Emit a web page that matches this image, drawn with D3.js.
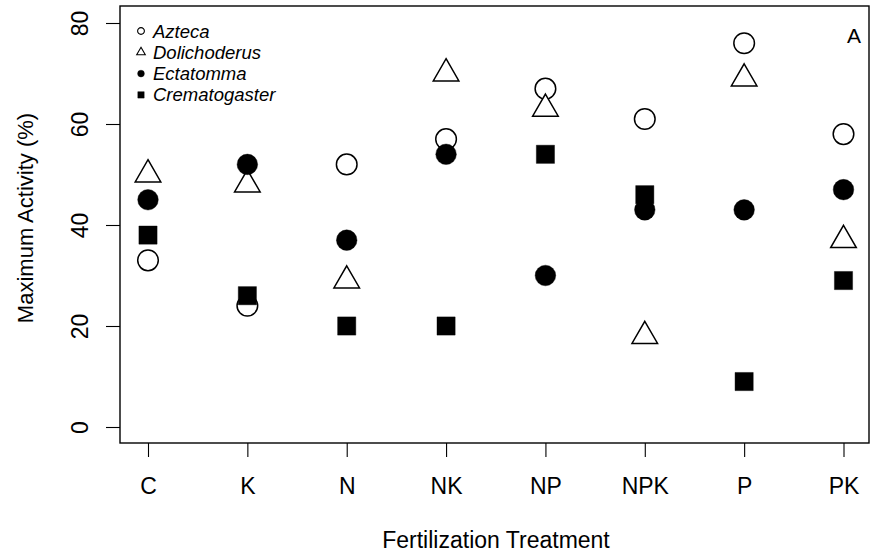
<!DOCTYPE html>
<html>
<head>
<meta charset="utf-8">
<script src="https://cdn.jsdelivr.net/npm/d3@7"></script>
<style>
  html, body { margin: 0; padding: 0; background: #fff; }
  svg { display: block; font-family: "Liberation Sans", Arial, sans-serif; }
</style>
</head>
<body>
<svg id="chart" width="871" height="559"></svg>
<script>
// Treatments along the x axis
const treatments = ["C", "K", "N", "NK", "NP", "NPK", "P", "PK"];
// Maximum activity (%) per genus, one value per treatment
const azteca        = [33, 24, 52, 57, 67, 61, 76, 58];
const dolichoderus  = [50, 48, 29, 70, 63, 18, 69, 37];
const ectatomma     = [45, 52, 37, 54, 30, 43, 43, 47];
const crematogaster = [38, 26, 20, 20, 54, 46, 9, 29];
const yTicks = [0, 20, 40, 60, 80];
const genera = ["Azteca", "Dolichoderus", "Ectatomma", "Crematogaster"];

const series = [
  { name: genera[0], values: azteca,        shape: "circle",   fill: false },
  { name: genera[1], values: dolichoderus,  shape: "triangle", fill: false },
  { name: genera[2], values: ectatomma,     shape: "circle",   fill: true },
  { name: genera[3], values: crematogaster, shape: "square",   fill: true }
];

const FONT = "'Liberation Sans', Arial, sans-serif";
const svg = d3.select("#chart");
const box = { left: 120, right: 869, top: 6, bottom: 443 };

const x = d3.scalePoint().domain(treatments).range([148, 843.5]);
const y = d3.scaleLinear().domain([0, 80]).range([427, 23]);

// marker outlines in the style of base-graphics plotting symbols
function markerPath(shape, s) {
  if (shape === "circle") {
    return `M${-s},0A${s},${s} 0 1,0 ${s},0A${s},${s} 0 1,0 ${-s},0Z`;
  }
  if (shape === "triangle") {
    // s = half base width; apex at 2/sqrt(3)*s above centre, base at s/sqrt(3) below
    return `M0,${-s * 1.1547}L${s},${s * 0.5774}L${-s},${s * 0.5774}Z`;
  }
  return `M${-s},${-s}H${s}V${s}H${-s}Z`;
}
const bigSize = { circle: 10.3, triangle: 12.8, square: 9.1 };
const smallSize = { circle: 3.4, triangle: 4.3, square: 3.2 };

// plot frame
svg.append("rect")
  .attr("x", box.left).attr("y", box.top)
  .attr("width", box.right - box.left).attr("height", box.bottom - box.top)
  .attr("fill", "none").attr("stroke", "#000").attr("stroke-width", 1.4);

// y axis
const yAxis = svg.append("g").attr("transform", `translate(${box.left},0)`)
  .call(d3.axisLeft(y).tickValues(yTicks).tickSizeOuter(0).tickSizeInner(14));
yAxis.select(".domain").remove();
yAxis.selectAll(".tick line").attr("stroke", "#000").attr("stroke-width", 1.1);
yAxis.selectAll(".tick text")
  .attr("x", null).attr("dy", null)
  .attr("transform", "translate(-32,0) rotate(-90)")
  .attr("text-anchor", "middle")
  .attr("fill", "#000")
  .style("font-size", "23px").style("font-family", FONT);

// x axis
const xAxis = svg.append("g").attr("transform", `translate(0,${box.bottom})`)
  .call(d3.axisBottom(x).tickSizeOuter(0).tickSizeInner(14));
xAxis.select(".domain").remove();
xAxis.selectAll(".tick line").attr("stroke", "#000").attr("stroke-width", 1.1);
xAxis.selectAll(".tick text")
  .attr("y", 51).attr("dy", null)
  .attr("fill", "#000")
  .style("font-size", "23px").style("font-family", FONT);

// axis titles
svg.append("text")
  .attr("x", 496).attr("y", 548)
  .attr("text-anchor", "middle")
  .style("font-size", "23px")
  .text("Fertilization Treatment");
svg.append("text")
  .attr("transform", "translate(33,218) rotate(-90)")
  .attr("text-anchor", "middle")
  .style("font-size", "22px")
  .text("Maximum Activity (%)");

// panel letter
svg.append("text")
  .attr("x", 854).attr("y", 43).attr("text-anchor", "middle")
  .style("font-size", "21px").text("A");

// points
series.forEach(s => {
  svg.append("g").selectAll("path")
    .data(s.values.map((v, i) => ({ t: treatments[i], v })))
    .join("path")
    .attr("transform", d => `translate(${x(d.t)},${y(d.v)})`)
    .attr("d", markerPath(s.shape, bigSize[s.shape]))
    .attr("fill", s.fill ? "#000" : "#fff")
    .attr("stroke", "#000")
    .attr("stroke-width", s.fill ? 0.4 : 1.5);
});

// legend
const legend = svg.append("g");
series.forEach((s, i) => {
  const ly = 31 + i * 21.3;
  legend.append("path")
    .attr("transform", `translate(141,${ly})`)
    .attr("d", markerPath(s.shape, smallSize[s.shape]))
    .attr("fill", s.fill ? "#000" : "#fff")
    .attr("stroke", "#000").attr("stroke-width", s.fill ? 0.4 : 1.1);
  legend.append("text")
    .attr("x", 153).attr("y", ly + 6.5)
    .style("font-size", "18.5px").attr("font-style", "italic")
    .text(s.name);
});
</script>
</body>
</html>
